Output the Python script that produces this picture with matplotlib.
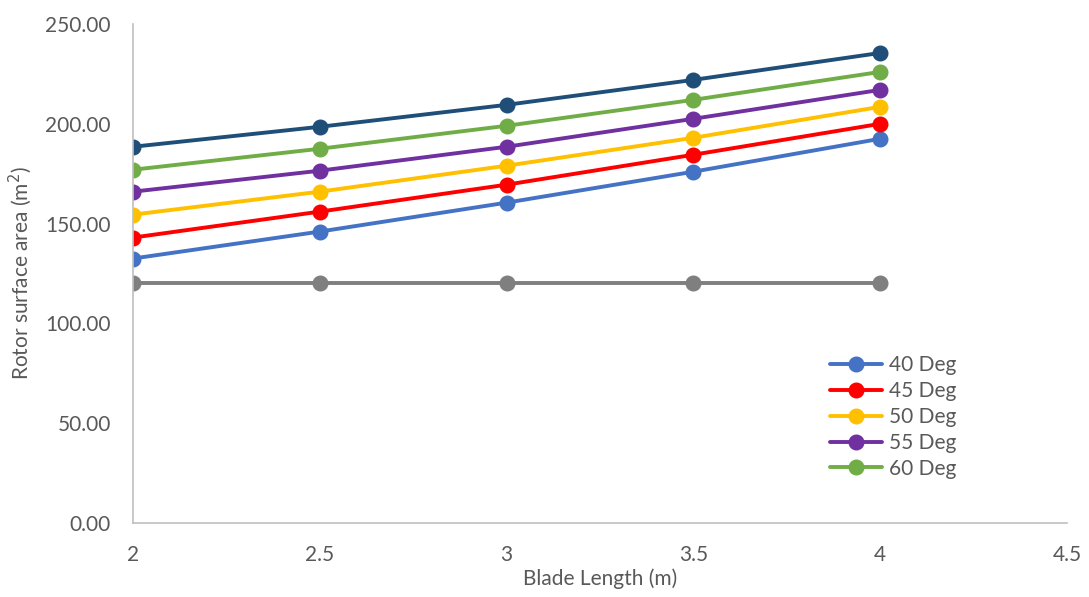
import matplotlib.pyplot as plt
import matplotlib as mpl
from matplotlib.ticker import FormatStrFormatter

mpl.rcParams['font.family'] = ['Lato', 'DejaVu Sans']
mpl.rcParams['font.size'] = 15

blade_length = [2, 2.5, 3, 3.5, 4]
deg40 = [132.5, 146.0, 160.5, 176.0, 192.5]
deg45 = [143.0, 156.0, 169.5, 184.5, 200.0]
deg50 = [154.5, 166.0, 179.0, 193.0, 208.5]
deg55 = [166.0, 176.5, 188.5, 202.5, 217.0]
deg60 = [177.0, 187.5, 199.0, 212.0, 226.0]
deg65 = [188.5, 198.5, 209.5, 222.0, 235.5]
baseline = [120.0, 120.0, 120.0, 120.0, 120.0]

series = [
    (baseline, "#7F7F7F", "_nolegend_"),
    (deg40, "#4472C4", "40 Deg"),
    (deg45, "#FF0000", "45 Deg"),
    (deg50, "#FFC000", "50 Deg"),
    (deg55, "#7030A0", "55 Deg"),
    (deg60, "#70AD47", "60 Deg"),
    (deg65, "#1F4E79", "_nolegend_"),
]

text_color = "#595959"
fig = plt.figure(figsize=(10.89, 5.97), dpi=100)
ax = fig.add_axes([133/1089, 1 - 523/597, (1067-133)/1089, (523-24)/597])

for vals, col, lab in series:
    ax.plot(blade_length, vals, color=col, linewidth=2.8, marker="o",
            markersize=10.5, label=lab, solid_capstyle="round")

ax.set_xlim(2, 4.5)
ax.set_ylim(0, 250)
ax.set_xticks([2, 2.5, 3, 3.5, 4, 4.5], ["2", "2.5", "3", "3.5", "4", "4.5"])
ax.set_yticks([0, 50, 100, 150, 200, 250])
ax.yaxis.set_major_formatter(FormatStrFormatter("%.2f"))
ax.tick_params(length=0, colors=text_color, labelsize=15)
ax.tick_params(axis="y", pad=16)
ax.tick_params(axis="x", pad=16)

for side in ["top", "right"]:
    ax.spines[side].set_visible(False)
for side in ["left", "bottom"]:
    ax.spines[side].set_color("#BFBFBF")
    ax.spines[side].set_linewidth(1.2)

ax.set_xlabel("Blade Length (m)", color=text_color, fontsize=15, labelpad=2)
ax.set_ylabel("Rotor surface area (m$^2$)", color=text_color, fontsize=15, labelpad=8)

leg = ax.legend(loc="upper left", bbox_to_anchor=(822/1089, 1 - 347/597),
                bbox_transform=fig.transFigure, frameon=False, fontsize=15,
                handlelength=2.5, handletextpad=0.3, labelspacing=0.28,
                labelcolor=text_color, borderaxespad=0)

plt.savefig("out.png", dpi=100)
